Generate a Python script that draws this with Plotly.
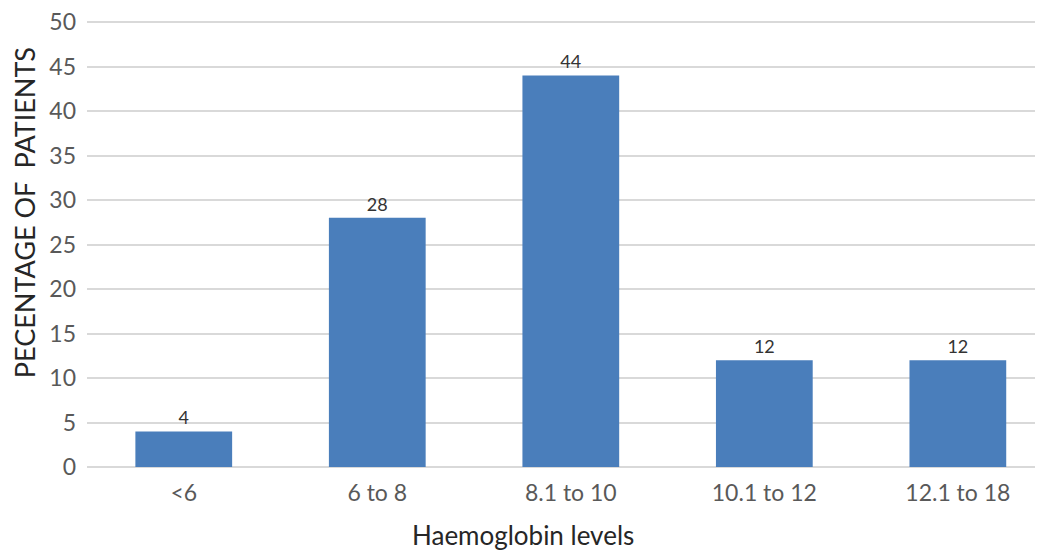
import plotly.graph_objects as go

categories = ["<6", "6 to 8", "8.1 to 10", "10.1 to 12", "12.1 to 18"]
values = [4, 28, 44, 12, 12]
y_ticks = [0, 5, 10, 15, 20, 25, 30, 35, 40, 45, 50]

FONT = "Lato, 'Open Sans', sans-serif"

fig = go.Figure(go.Bar(
    x=categories, y=values,
    marker=dict(color="#4a7ebb", line=dict(width=0)),
    text=[str(v) for v in values], textposition="outside",
    textfont=dict(family=FONT, size=18, color="#333333"),
    cliponaxis=False,
))

fig.update_layout(
    width=1035, height=542,
    margin=dict(l=79, r=0, t=13, b=83),
    paper_bgcolor="white", plot_bgcolor="white",
    bargap=0.5, showlegend=False,
    font=dict(family=FONT),
    xaxis=dict(range=[-0.5, 4.44], showgrid=False, showline=False, ticks="",
               tickfont=dict(size=23, color="#595959"), ticklabelstandoff=10),
    yaxis=dict(range=[0, 50.12], tickvals=y_ticks, showgrid=True, gridcolor="#d9d9d9", gridwidth=2,
               zeroline=True, zerolinecolor="#d9d9d9", zerolinewidth=2, showline=False,
               tickfont=dict(size=23, color="#595959"), ticklabelstandoff=10,
               ticklabeloverflow="allow"),
    annotations=[
        dict(text="Haemoglobin levels", xref="paper", yref="paper", x=0.456, y=-0.152,
             xanchor="center", yanchor="middle", showarrow=False,
             font=dict(family=FONT, size=26, color="#262626")),
        dict(text="PECENTAGE OF\u00a0\u00a0PATIENTS", xref="paper", yref="paper", x=-0.066, y=0.571,
             xanchor="center", yanchor="middle", textangle=-90, showarrow=False,
             font=dict(family=FONT, size=27, color="#262626")),
    ],
)

fig.write_html("out.html")
